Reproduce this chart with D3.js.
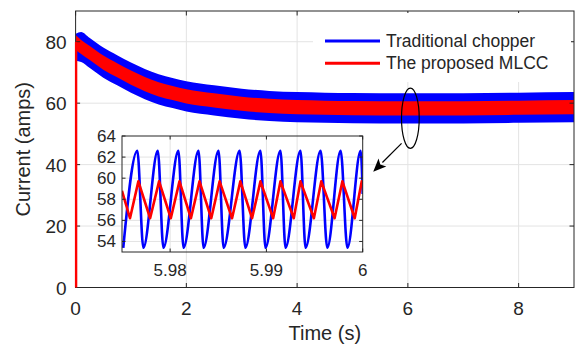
<!DOCTYPE html>
<html><head><meta charset="utf-8">
<script src="https://cdn.jsdelivr.net/npm/d3@7"></script>
<style>
body{margin:0;background:#fff}
svg{display:block}
text{font-family:"Liberation Sans",Arial,Helvetica,sans-serif;fill:#262626}
</style>
</head><body>
<svg id="c" width="576" height="350"></svg>
<script>
// ---------- data ----------
const xTicks = [0, 2, 4, 6, 8];
const yTicks = [0, 20, 40, 60, 80];
const insetXTicks = [5.98, 5.99, 6];
const insetYTicks = [54, 56, 58, 60, 62, 64];
const seriesNames = ["Traditional chopper", "The proposed MLCC"];

// main plot: envelopes of the fast-switching current
const tMain      = [0,    0.1,  0.25, 0.5,  0.75, 1,    1.25, 1.5,  1.75, 2,    2.5,  3,    3.5,  4,    4.5,  5,    6,    7,    8,    9];
const blueUpper  = [82.6, 83.2, 81.3, 78.1, 75.6, 73.2, 71.1, 69.4, 68.2, 67.1, 65.8, 64.7, 64.0, 63.6, 63.4, 63.3, 63.2, 63.2, 63.4, 63.6];
const blueLower  = [73.8, 73.4, 71.5, 68.3, 65.8, 63.4, 61.3, 59.6, 58.4, 57.3, 56.0, 54.9, 54.2, 53.8, 53.6, 53.5, 53.4, 53.4, 53.6, 53.8];
const redUpper   = [82.2, 80.6, 78.7, 75.5, 73.0, 70.6, 68.5, 66.8, 65.6, 64.5, 63.2, 62.1, 61.4, 61.0, 60.8, 60.7, 60.6, 60.6, 60.8, 61.0];
const redLower   = [77.3, 76.0, 74.1, 70.9, 68.4, 66.0, 63.9, 62.2, 61.0, 59.9, 58.6, 57.5, 56.8, 56.4, 56.2, 56.1, 56.0, 56.0, 56.2, 56.4];
const redStartT  = [0, 0];
const redStartV  = [0, 80];

// inset: zoomed waveform 5.975 s – 6 s
const insetBlueT = [5.97513, 5.97659, 5.97722, 5.97872, 5.97930, 5.98086, 5.98139, 5.98295, 5.98347, 5.98503,
                    5.98555, 5.98722, 5.98781, 5.98938, 5.98990, 5.99146, 5.99198, 5.99354, 5.99406, 5.99563,
                    5.99632, 5.99771, 5.99841, 5.99979, 6.0];
const insetBlueV = [53.4, 62.6, 53.4, 62.6, 53.4, 62.6, 53.4, 62.6, 53.4, 62.6,
                    53.4, 62.6, 53.4, 62.6, 53.4, 62.6, 53.4, 62.6, 53.4, 62.6,
                    53.4, 62.6, 53.4, 62.6, 58.5];
const insetRedT  = [5.975, 5.97583, 5.97670, 5.97792, 5.97885, 5.98007, 5.98097, 5.98216, 5.98305, 5.98427,
                    5.98514, 5.98643, 5.98729, 5.98851, 5.98938, 5.99070, 5.99146, 5.99284, 5.99354, 5.99493,
                    5.99570, 5.99708, 5.99789, 5.99917, 5.99990, 6.0];
const insetRedV  = [58.8, 56.2, 59.7, 56.2, 59.7, 56.2, 59.7, 56.2, 59.7, 56.2,
                    59.7, 56.2, 59.7, 56.2, 59.7, 56.2, 59.7, 56.2, 59.7, 56.2,
                    59.7, 56.2, 59.7, 56.2, 59.7, 59.5];

// annotation (data units)
const ellipseCenter = [6.045, 55.1];
const ellipseRadii  = [0.16, 9.8];
const arrowFrom     = [5.886, 46.9];
const arrowTo       = [5.374, 37.7];

// ---------- layout ----------
const BLUE = "#0000ff", RED = "#ff0000", AX = "#262626", GRID = "#e3e3e3";
const svg = d3.select("#c");
const x = d3.scaleLinear().domain([0, 9]).range([75.6, 574]);
const y = d3.scaleLinear().domain([0, 90]).range([287.5, 11]);

const defs = svg.append("defs");
defs.append("clipPath").attr("id", "mainClip").append("rect")
  .attr("x", x(0)).attr("y", y(90)).attr("width", x(9) - x(0)).attr("height", y(0) - y(90));

// grid
const g = svg.append("g");
g.selectAll(".gx").data(xTicks.slice(1)).join("line")
  .attr("x1", d => x(d)).attr("x2", d => x(d)).attr("y1", y(0)).attr("y2", y(90))
  .attr("stroke", GRID).attr("stroke-width", 1);
g.selectAll(".gy").data(yTicks.slice(1)).join("line")
  .attr("x1", x(0)).attr("x2", x(9)).attr("y1", d => y(d)).attr("y2", d => y(d))
  .attr("stroke", GRID).attr("stroke-width", 1);

// bands
const idx = d3.range(tMain.length);
const plot = svg.append("g").attr("clip-path", "url(#mainClip)");
const bandArea = (up, lo) => d3.area().x(i => x(tMain[i])).y0(i => y(lo[i])).y1(i => y(up[i])).curve(d3.curveMonotoneX);
plot.append("path").datum(idx).attr("d", bandArea(blueUpper, blueLower)).attr("fill", BLUE);
plot.append("path").datum(idx).attr("d", bandArea(redUpper, redLower)).attr("fill", RED);

// axes box + ticks
const ax = svg.append("g");
ax.append("rect").attr("x", x(0)).attr("y", y(90)).attr("width", x(9) - x(0)).attr("height", y(0) - y(90))
  .attr("fill", "none").attr("stroke", AX).attr("stroke-width", 1);
const TL = 4.5;
xTicks.forEach(d => {
  ax.append("line").attr("x1", x(d)).attr("x2", x(d)).attr("y1", y(0)).attr("y2", y(0) - TL).attr("stroke", AX);
  ax.append("line").attr("x1", x(d)).attr("x2", x(d)).attr("y1", y(90)).attr("y2", y(90) + TL).attr("stroke", AX);
});
yTicks.forEach(d => {
  ax.append("line").attr("x1", x(0)).attr("x2", x(0) + TL).attr("y1", y(d)).attr("y2", y(d)).attr("stroke", AX);
  ax.append("line").attr("x1", x(9)).attr("x2", x(9) - TL).attr("y1", y(d)).attr("y2", y(d)).attr("stroke", AX);
});
ax.selectAll(".xl").data(xTicks).join("text")
  .attr("x", d => x(d)).attr("y", y(0) + 27).attr("text-anchor", "middle")
  .attr("font-size", 19).text(d => d);
ax.selectAll(".yl").data(yTicks).join("text")
  .attr("x", x(0) - 9).attr("y", d => y(d) + 7).attr("text-anchor", "end")
  .attr("font-size", 19).text(d => d);
ax.append("text").attr("x", (x(0) + x(9)) / 2).attr("y", 340).attr("text-anchor", "middle")
  .attr("font-size", 20).text("Time (s)");
ax.append("text").attr("transform", `translate(30,${(y(0) + y(90)) / 2}) rotate(-90)`)
  .attr("text-anchor", "middle").attr("font-size", 20).text("Current (amps)");

// red start-up line at t = 0
svg.append("line")
  .attr("x1", x(redStartT[0]) + 0.5).attr("x2", x(redStartT[1]) + 0.5)
  .attr("y1", y(redStartV[0])).attr("y2", y(redStartV[1]))
  .attr("stroke", RED).attr("stroke-width", 2.4);

// legend
const lg = svg.append("g");
lg.append("rect").attr("x", 313).attr("y", 13).attr("width", 258).attr("height", 69).attr("fill", "#fff");
[BLUE, RED].forEach((c, i) => {
  const yy = 41 + i * 22.3;
  lg.append("line").attr("x1", 325).attr("x2", 380).attr("y1", yy).attr("y2", yy)
    .attr("stroke", c).attr("stroke-width", 3);
  lg.append("text").attr("x", 386).attr("y", yy + 6).attr("font-size", 17.5).text(seriesNames[i]);
});

// ---------- inset ----------
const xi = d3.scaleLinear().domain([5.975, 6.0]).range([122, 362.7]);
const yi = d3.scaleLinear().domain([53, 64]).range([252, 136]);
defs.append("clipPath").attr("id", "insetClip").append("rect")
  .attr("x", xi(5.975)).attr("y", yi(64)).attr("width", xi(6) - xi(5.975)).attr("height", yi(53) - yi(64));
const ig = svg.append("g");
ig.selectAll(".igx").data(insetXTicks.slice(0, 2)).join("line")
  .attr("x1", d => xi(d)).attr("x2", d => xi(d)).attr("y1", yi(53)).attr("y2", yi(64))
  .attr("stroke", GRID);
ig.selectAll(".igy").data(insetYTicks.slice(0, 5)).join("line")
  .attr("x1", xi(5.975)).attr("x2", xi(6)).attr("y1", d => yi(d)).attr("y2", d => yi(d))
  .attr("stroke", GRID);
const ip = ig.append("g").attr("clip-path", "url(#insetClip)");
ip.append("path").datum(d3.range(insetBlueT.length))
  .attr("d", d3.line().x(i => xi(insetBlueT[i])).y(i => yi(insetBlueV[i])).curve(d3.curveMonotoneX))
  .attr("fill", "none").attr("stroke", BLUE).attr("stroke-width", 2.6).attr("stroke-linejoin", "round");
ip.append("path").datum(d3.range(insetRedT.length))
  .attr("d", d3.line().x(i => xi(insetRedT[i])).y(i => yi(insetRedV[i])))
  .attr("fill", "none").attr("stroke", RED).attr("stroke-width", 2.6).attr("stroke-linejoin", "round");
ig.append("rect").attr("x", xi(5.975)).attr("y", yi(64)).attr("width", xi(6) - xi(5.975)).attr("height", yi(53) - yi(64))
  .attr("fill", "none").attr("stroke", AX).attr("stroke-width", 1);
const TLi = 3.5;
insetXTicks.forEach(d => {
  ig.append("line").attr("x1", xi(d)).attr("x2", xi(d)).attr("y1", yi(53)).attr("y2", yi(53) - TLi).attr("stroke", AX);
  ig.append("line").attr("x1", xi(d)).attr("x2", xi(d)).attr("y1", yi(64)).attr("y2", yi(64) + TLi).attr("stroke", AX);
});
insetYTicks.forEach(d => {
  ig.append("line").attr("x1", xi(5.975)).attr("x2", xi(5.975) + TLi).attr("y1", yi(d)).attr("y2", yi(d)).attr("stroke", AX);
  ig.append("line").attr("x1", xi(6)).attr("x2", xi(6) - TLi).attr("y1", yi(d)).attr("y2", yi(d)).attr("stroke", AX);
});
ig.selectAll(".ixl").data(insetXTicks).join("text")
  .attr("x", d => xi(d)).attr("y", yi(53) + 24).attr("text-anchor", "middle")
  .attr("font-size", 17).text(d => d);
ig.selectAll(".iyl").data(insetYTicks).join("text")
  .attr("x", xi(5.975) - 6).attr("y", d => yi(d) + 6).attr("text-anchor", "end")
  .attr("font-size", 17).text(d => d);

// ---------- annotation ----------
svg.append("ellipse")
  .attr("cx", x(ellipseCenter[0])).attr("cy", y(ellipseCenter[1]))
  .attr("rx", x(ellipseCenter[0] + ellipseRadii[0]) - x(ellipseCenter[0]))
  .attr("ry", y(ellipseCenter[1]) - y(ellipseCenter[1] + ellipseRadii[1]))
  .attr("fill", "none").attr("stroke", "#000").attr("stroke-width", 1.2);
const ax0 = x(arrowFrom[0]), ay0 = y(arrowFrom[1]), ax1 = x(arrowTo[0]), ay1 = y(arrowTo[1]);
const L = Math.hypot(ax1 - ax0, ay1 - ay0), ux = (ax1 - ax0) / L, uy = (ay1 - ay0) / L;
const hl = 13, hw = 5.5;
const bx = ax1 - ux * hl, by = ay1 - uy * hl;
svg.append("line").attr("x1", ax0).attr("y1", ay0).attr("x2", bx).attr("y2", by)
  .attr("stroke", "#000").attr("stroke-width", 1.2);
svg.append("path")
  .attr("d", `M${ax1},${ay1}L${bx - uy * hw},${by + ux * hw}L${bx + ux * 3},${by + uy * 3}L${bx + uy * hw},${by - ux * hw}Z`)
  .attr("fill", "#000");
</script>
</body></html>
